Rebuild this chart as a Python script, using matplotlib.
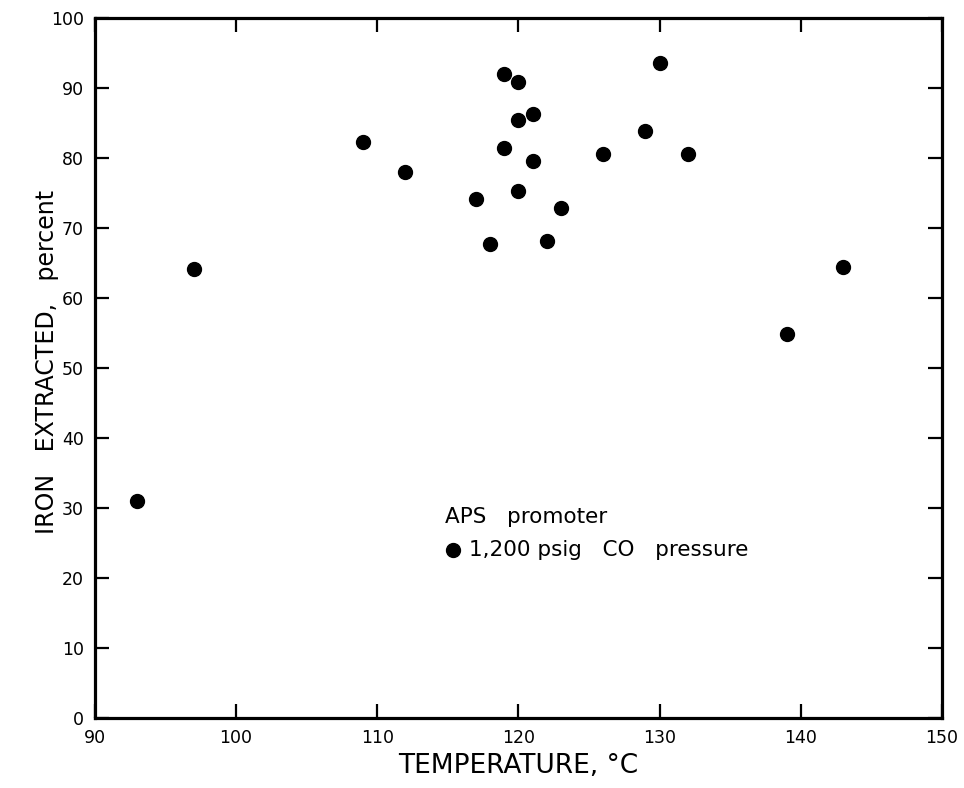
"""Iron extraction vs temperature, APS promoter at 1,200 psig CO."""
import matplotlib
matplotlib.use("Agg")
import matplotlib.pyplot as plt

# data
temp_c = [93, 97, 109, 112, 117, 118, 119, 119, 120, 120, 120, 121, 121,
          122, 123, 126, 129, 130, 132, 139, 143]
iron_pct = [31.0, 64.1, 82.3, 78.0, 74.2, 67.7, 92.0, 81.4, 90.9, 85.4, 75.3,
            86.3, 79.6, 68.1, 72.8, 80.5, 83.8, 93.6, 80.5, 54.8, 64.4]

x_ticks = [90, 100, 110, 120, 130, 140, 150]
y_ticks = [0, 10, 20, 30, 40, 50, 60, 70, 80, 90, 100]

plt.rcParams["font.family"] = ["DejaVu Sans"]

fig = plt.figure(figsize=(9.64, 7.88), dpi=100)
ax = fig.add_axes([0.0985, 0.0888, 0.8785, 0.8884])

ax.plot(temp_c, iron_pct, "o", color="black", ms=10, mec="black")

ax.set_xlim(90, 150)
ax.set_ylim(0, 100)
ax.set_xticks(x_ticks)
ax.set_yticks(y_ticks)
ax.tick_params(direction="in", length=10, width=1.6, labelsize=12.5,
               top=True, right=True, pad=8)
for sp in ax.spines.values():
    sp.set_linewidth(2.3)

ax.set_xlabel("TEMPERATURE, °C", fontsize=19, labelpad=4)
ax.set_ylabel("IRON   EXTRACTED,   percent", fontsize=17)
ax.yaxis.set_label_coords(-0.043, 0.508)

# in-plot key
ax.text(114.8, 28.7, "APS   promoter", fontsize=15.5, va="center", ha="left")
ax.plot([115.35], [24.0], "o", color="black", ms=10)
ax.text(116.5, 24.0, "1,200 psig   CO   pressure", fontsize=15.5,
        va="center", ha="left")

fig.savefig("out.png", dpi=100)
